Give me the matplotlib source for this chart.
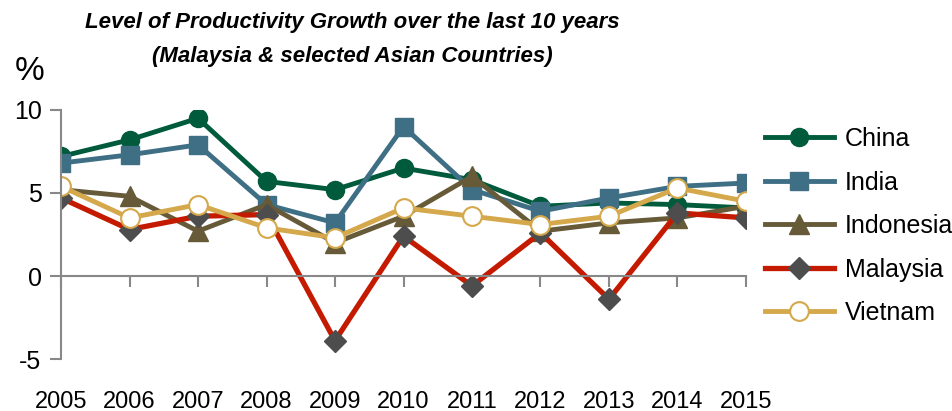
import matplotlib
matplotlib.use("Agg")
import matplotlib.pyplot as plt
import matplotlib.transforms as mtransforms

plt.rcParams['font.family'] = ['Liberation Sans', 'DejaVu Sans']
plt.rcParams['axes.unicode_minus'] = False

years = [2005, 2006, 2007, 2008, 2009, 2010, 2011, 2012, 2013, 2014, 2015]
china = [7.2, 8.2, 9.5, 5.7, 5.2, 6.5, 5.8, 4.2, 4.4, 4.3, 4.1]
india = [6.8, 7.3, 7.9, 4.3, 3.2, 9.0, 5.2, 3.9, 4.7, 5.4, 5.6]
indonesia = [5.2, 4.8, 2.7, 4.3, 2.0, 3.6, 6.0, 2.7, 3.2, 3.5, 4.2]
malaysia = [4.7, 2.8, 3.6, 3.7, -3.9, 2.4, -0.6, 2.6, -1.4, 3.8, 3.5]
vietnam = [5.4, 3.5, 4.3, 2.9, 2.3, 4.1, 3.6, 3.1, 3.6, 5.3, 4.5]
yticks = [-5, 0, 5, 10]

fig = plt.figure(figsize=(9.52, 4.11), dpi=100)
ax = fig.add_axes([0.0641, 0.1265, 0.7195, 0.6059])

lw = 3.5
ax.plot(years, china, color='#005A3C', lw=lw, marker='o', ms=13,
        mfc='#005A3C', mec='#005A3C', label='China')
ax.plot(years, india, color='#3F6F85', lw=lw, marker='s', ms=13,
        mfc='#3F6F85', mec='#3F6F85', label='India')
ax.plot(years, indonesia, color='#665A38', lw=lw, marker='^', ms=14,
        mfc='#665A38', mec='#665A38', label='Indonesia')
ax.plot(years, malaysia, color='#C41A00', lw=3.8, marker='D', ms=11.5,
        mfc='#4D4D4D', mec='#4D4D4D', label='Malaysia')
ax.plot(years, vietnam, color='#D4A84B', lw=lw, marker='o', ms=13.5,
        mfc='white', mec='#D4A84B', mew=1.5, label='Vietnam')

ax.set_xlim(years[0], years[-1])
ax.set_ylim(-5, 10)
ax.set_yticks(yticks)
ax.set_xticks(years)

for s in ['top', 'right']:
    ax.spines[s].set_visible(False)
ax.spines['left'].set_color('#888888')
ax.spines['bottom'].set_color('#888888')
ax.spines['left'].set_linewidth(1.5)
ax.spines['bottom'].set_linewidth(1.5)
ax.spines['bottom'].set_position(('data', 0))
ax.tick_params(axis='both', direction='out', length=8, width=1.5,
               color='#888888')
ax.tick_params(axis='y', labelsize=18, pad=6)
ax.tick_params(axis='x', labelbottom=False)

# year labels sit under the plot, not on the zero line
trans = mtransforms.blended_transform_factory(ax.transData, ax.transAxes)
for y in years:
    ax.text(y, -0.172, str(y), transform=trans, ha='center', va='center',
            fontsize=17)

fig.text(0.37, 0.945, 'Level of Productivity Growth over the last 10 years',
         ha='center', va='center', fontsize=16, fontweight='bold',
         style='italic')
fig.text(0.37, 0.862, '(Malaysia & selected Asian Countries)',
         ha='center', va='center', fontsize=16, fontweight='bold',
         style='italic')
fig.text(0.031, 0.825, '%', ha='center', va='center', fontsize=24)

ax.legend(loc='upper left', bbox_to_anchor=(0.793, 0.715),
          bbox_transform=fig.transFigure, frameon=False, fontsize=18,
          handlelength=2.75, labelspacing=0.78, handletextpad=0.45,
          borderaxespad=0)

fig.savefig('out.png', dpi=100)
